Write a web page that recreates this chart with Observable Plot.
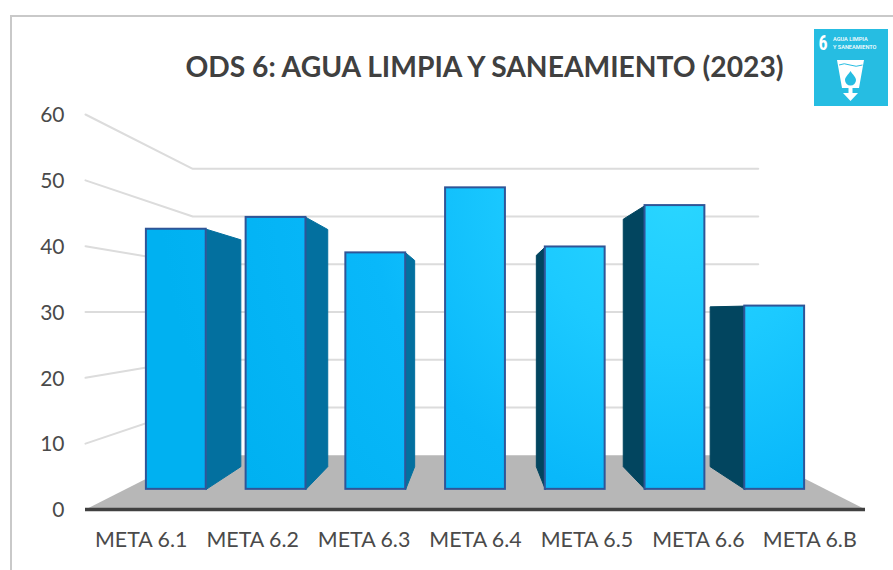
<!DOCTYPE html>
<html><head><meta charset="utf-8">
<script src="https://cdn.jsdelivr.net/npm/d3@7"></script>
<script src="https://cdn.jsdelivr.net/npm/@observablehq/plot@0.6"></script>
<style>
html,body{margin:0;padding:0;background:#fff}
#wrap{position:relative;width:893px;height:570px;overflow:hidden;font-family:Lato,sans-serif}
#frame{position:absolute;left:10px;top:15px;right:-4px;bottom:-4px;border:2px solid #c9c9c9;pointer-events:none}
#title{position:absolute;left:0;top:48px;width:969px;text-align:center;font-size:28.25px;font-weight:700;color:#404040;white-space:nowrap;margin:0;line-height:36px}
#logo{position:absolute;left:814px;top:29px}
</style></head>
<body><div id="wrap"><div id="chart"></div><div id="frame"></div>
<h1 id="title">ODS 6: AGUA LIMPIA Y SANEAMIENTO (2023)</h1>
<svg id="logo" width="74" height="77" viewBox="0 0 74 77">
<rect width="74" height="77" fill="#26bde2"/>
<text x="4" y="21" fill="#fff" font-family="Roboto Condensed,Roboto,sans-serif" font-weight="700" font-size="20" transform="translate(0.8 0) scale(0.9 1)">6</text>
<text x="19" y="12" fill="#fff" font-family="Roboto,sans-serif" font-size="5.6" font-weight="500">AGUA LIMPIA</text>
<text x="19" y="20" fill="#fff" font-family="Roboto,sans-serif" font-size="5.6" font-weight="500">Y SANEAMIENTO</text>
<path d="M23 31H50L45 59H38.5V64H44L36.5 72L29 64H34.5V59H28Z" fill="#fff"/>
<path d="M25 36Q30 33.5 36 36T48.5 36" fill="none" stroke="#26bde2" stroke-width="1"/>
<path d="M36.5 42C39 46 42 48 42 51A5.5 5.5 0 0 1 31 51C31 48 34 46 36.5 42Z" fill="#26bde2"/>
</svg>
</div>
<script>
const categories = ["META 6.1","META 6.2","META 6.3","META 6.4","META 6.5","META 6.6","META 6.B"];
const values = [44,46,40,51,41,48,31];
const gridValues = [10,20,30,40,50,60];
const axisTicks = [0,10,20,30,40,50,60];
const tickCentres = [0.5,1.5,2.5,3.5,4.5,5.5,6.5];

// One-point perspective: depth scale s shrinks toward the centre of the chart.
const BACK = 0.725, BAR_FRONT = 0.898, BAR_BACK = 0.783, BAR_FRONT_X = 0.895, BAR_BACK_X = 0.78, HALF = 0.3;
const px = (x,s) => 3.5 + (x-3.5)*s;
const py = (v,s) => 30 + (v-30)*s;

const grid = gridValues.flatMap(v => [
  {x:px(0,1),y:py(v,1),z:v},
  {x:px(0,BACK),y:py(v,BACK),z:v},
  {x:px(7,BACK),y:py(v,BACK),z:v}
]);
const floor = [[0,1],[7,1],[7,BACK],[0,BACK],[0,1]].map(([x,s])=>({x:px(x,s),y:py(0,s)}));
const fronts = values.map((v,i)=>({
  x1:px(i+.5-HALF,BAR_FRONT_X),x2:px(i+.5+HALF,BAR_FRONT_X),y1:py(0,BAR_FRONT),y2:py(v,BAR_FRONT)
}));
const sides = values.flatMap((v,i)=>{
  if(i===3) return [];
  const e = i<3 ? i+.5+HALF : i+.5-HALF;
  return [[0,BAR_FRONT,BAR_FRONT_X],[v,BAR_FRONT,BAR_FRONT_X],[v,BAR_BACK,BAR_BACK_X],[0,BAR_BACK,BAR_BACK_X],[0,BAR_FRONT,BAR_FRONT_X]].map(([val,s,sx])=>({
    x:px(e,sx),y:py(val,s),z:i,side:i<3?"#03709f":"#02455f"
  }));
});

const defs = () => {
  const ns = "http://www.w3.org/2000/svg";
  const d = document.createElementNS(ns,"defs");
  d.innerHTML = `<radialGradient id="barFill" gradientUnits="userSpaceOnUse" cx="680" cy="190" r="520">
    <stop offset="0" stop-color="#2ad6ff"/><stop offset="0.3" stop-color="#1ccaff"/><stop offset="0.6" stop-color="#09b8fa"/><stop offset="1" stop-color="#00b1f1"/></radialGradient>`;
  return d;
};

const chart = Plot.plot({
  width:893,height:570,marginTop:114,marginBottom:61,marginLeft:85,marginRight:28,
  style:{fontFamily:"Lato,sans-serif",fontSize:"20px",color:"#4a4a4a",background:"transparent"},
  x:{domain:[0,7]},
  y:{domain:[0,60]},
  marks:[
    defs,
    Plot.line(grid,{x:"x",y:"y",z:"z",stroke:"#dcdcdc",strokeWidth:2}),
    Plot.line(floor,{x:"x",y:"y",fill:"#b7b7b7",stroke:"none"}),
    Plot.ruleY([0],{stroke:"#404040",strokeWidth:3.5}),
    Plot.line(sides,{x:"x",y:"y",z:"z",fill:"side",stroke:"side",strokeWidth:1}),
    Plot.rect(fronts,{x1:"x1",x2:"x2",y1:"y1",y2:"y2",fill:"url(#barFill)",stroke:"#2f5597",strokeWidth:2,inset:0}),
    Plot.axisY({ticks:axisTicks,tickSize:0,tickPadding:21,dy:1,label:null,tickFormat:d=>d,fill:"#4a4a4a",fontSize:21}),
    Plot.axisX({ticks:tickCentres,tickSize:0,tickPadding:22,label:null,tickFormat:d=>categories[Math.floor(d)],fill:"#4a4a4a",fontSize:21.4})
  ]
});
document.getElementById("chart").appendChild(chart);
</script></body></html>
